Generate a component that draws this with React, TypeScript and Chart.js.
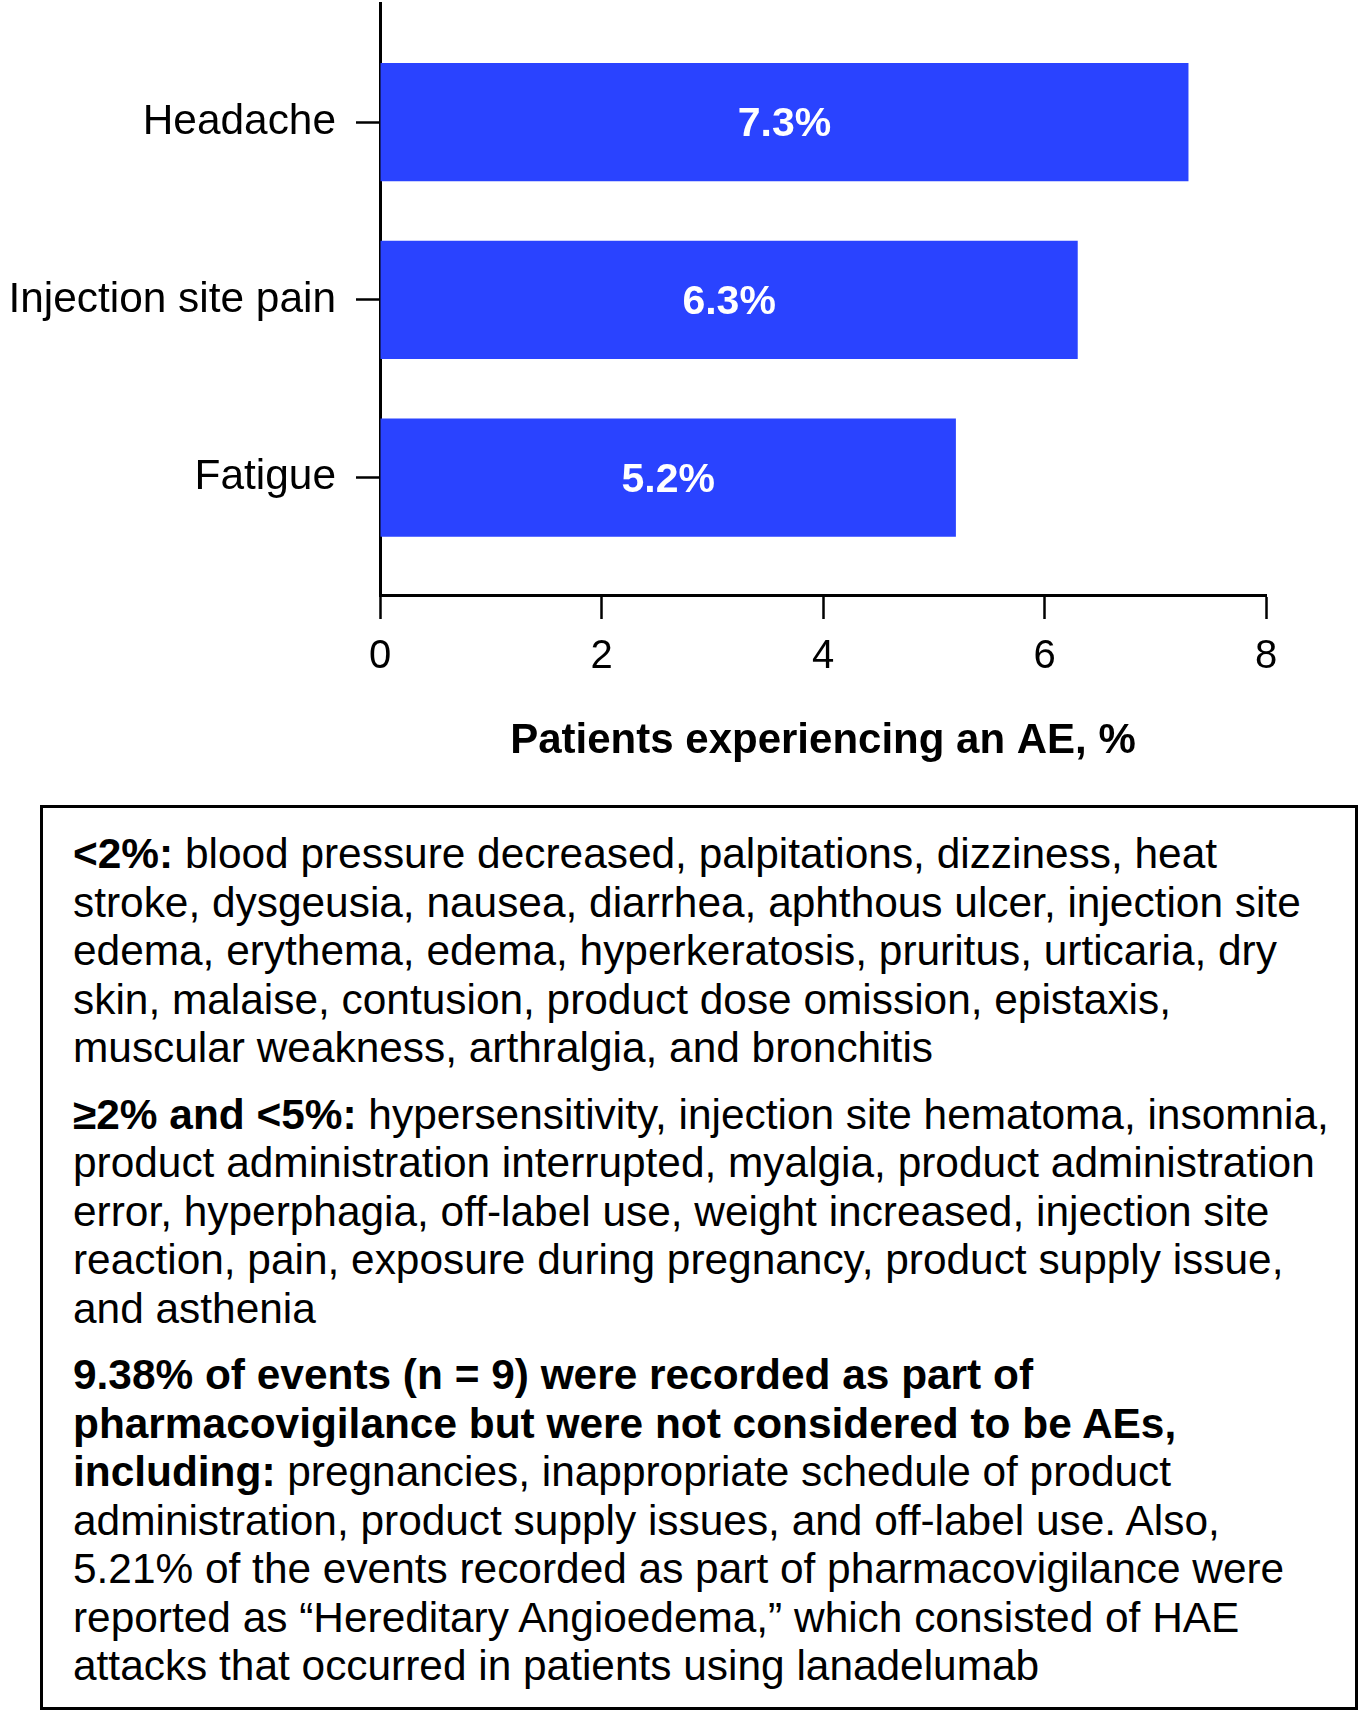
import React, { useEffect, useRef } from "react";
import { Chart, registerables } from "chart.js";

Chart.register(...registerables);

const categories = ["Headache", "Injection site pain", "Fatigue"];
const values = [7.3, 6.3, 5.2];
const xTicks = [0, 2, 4, 6, 8];
const xTitle = "Patients experiencing an AE, %";

const FONT = "'Liberation Sans', Arial, Helvetica, sans-serif";
const BAR_COLOR = "#2a43ff";

const para1 = [
  [{ b: "<2%:" }, " blood pressure decreased, palpitations, dizziness, heat"],
  ["stroke, dysgeusia, nausea, diarrhea, aphthous ulcer, injection site"],
  ["edema, erythema, edema, hyperkeratosis, pruritus, urticaria, dry"],
  ["skin, malaise, contusion, product dose omission, epistaxis,"],
  ["muscular weakness, arthralgia, and bronchitis"],
];
const para2 = [
  [{ b: "≥2% and <5%:" }, " hypersensitivity, injection site hematoma, insomnia,"],
  ["product administration interrupted, myalgia, product administration"],
  ["error, hyperphagia, off-label use, weight increased, injection site"],
  ["reaction, pain, exposure during pregnancy, product supply issue,"],
  ["and asthenia"],
];
const para3 = [
  [{ b: "9.38% of events (n = 9) were recorded as part of" }],
  [{ b: "pharmacovigilance but were not considered to be AEs," }],
  [{ b: "including:" }, " pregnancies, inappropriate schedule of product"],
  ["administration, product supply issues, and off-label use. Also,"],
  ["5.21% of the events recorded as part of pharmacovigilance were"],
  ["reported as “Hereditary Angioedema,” which consisted of HAE"],
  ["attacks that occurred in patients using lanadelumab"],
];

const CANVAS_H = 790;
const AXIS_LEFT = 380;
const AXIS_BOTTOM = 595;

export default function App() {
  const ref = useRef<HTMLCanvasElement | null>(null);

  useEffect(() => {
    if (!ref.current) return;
    Chart.defaults.font.family = FONT;
    const labelPlugin = {
      id: "barLabels",
      afterDatasetsDraw(chart: any) {
        const ctx = chart.ctx;
        const meta = chart.getDatasetMeta(0);
        ctx.save();
        ctx.fillStyle = "#ffffff";
        ctx.font = `bold 41px ${FONT}`;
        ctx.textAlign = "center";
        ctx.textBaseline = "middle";
        meta.data.forEach((el: any, i: number) => {
          const cx = (el.x + el.base) / 2;
          ctx.fillText(`${values[i].toFixed(1)}%`, cx, el.y + 3);
        });
        ctx.restore();
      },
    };
    const chart = new Chart(ref.current, {
      type: "bar",
      data: {
        datasets: [
          {
            data: values.map((v, i) => ({ x: v, y: i })),
            backgroundColor: BAR_COLOR,
            borderWidth: 0,
            barPercentage: 0.665,
            categoryPercentage: 1,
          },
        ],
      },
      options: {
        indexAxis: "y",
        animation: false,
        responsive: false,
        devicePixelRatio: 1,
        layout: { padding: { top: 3, right: 95, left: 0, bottom: 0 } },
        plugins: { legend: { display: false }, tooltip: { enabled: false } },
        scales: {
          x: {
            type: "linear",
            min: 0,
            max: 8,
            offset: false,
            afterBuildTicks: (s: any) => {
              s.ticks = xTicks.map((v) => ({ value: v }));
            },
            afterFit: (s: any) => {
              s.height = CANVAS_H - AXIS_BOTTOM;
            },
            border: { display: true, color: "#000", width: 3 },
            grid: {
              display: true,
              offset: false,
              drawOnChartArea: false,
              drawTicks: true,
              tickLength: 24,
              tickColor: "#000",
              tickWidth: 2.5,
            },
            ticks: {
              color: "#000",
              padding: 14,
              font: { size: 40, family: FONT },
              maxRotation: 0,
            },
            title: {
              display: true,
              text: xTitle,
              color: "#000",
              font: { size: 42, weight: "bold", family: FONT },
              padding: { top: 0, bottom: 23 },
            },
          },
          y: {
            type: "linear",
            reverse: true,
            min: -0.67,
            max: 2.66,
            offset: false,
            afterBuildTicks: (s: any) => {
              s.ticks = categories.map((_, i) => ({ value: i }));
            },
            afterFit: (s: any) => {
              s.width = AXIS_LEFT;
              s.paddingTop = 0;
              s.paddingBottom = 0;
            },
            border: { display: true, color: "#000", width: 3 },
            grid: {
              display: true,
              offset: false,
              drawOnChartArea: false,
              drawTicks: true,
              tickLength: 24,
              tickColor: "#000",
              tickWidth: 2.5,
            },
            ticks: {
              color: "#000",
              padding: 20,
              font: { size: 42.4, family: FONT },
              callback: (v: any) => categories[Math.round(Number(v))] ?? "",
            },
          },
        },
      },
      plugins: [labelPlugin],
    } as any);
    return () => chart.destroy();
  }, []);

  const renderPara = (lines: any[], first: boolean) => (
    <div style={{ marginTop: first ? 0 : 18 }}>
      {lines.map((parts, i) => (
        <div key={i} style={{ whiteSpace: "nowrap" }}>
          {parts.map((p: any, j: number) =>
            typeof p === "string" ? (
              <span key={j}>{p}</span>
            ) : (
              <b key={j}>{p.b}</b>
            )
          )}
        </div>
      ))}
    </div>
  );

  return (
    <div
      style={{
        position: "absolute",
        left: 0,
        top: 0,
        width: 1361,
        height: 1712,
        background: "#fff",
        fontFamily: FONT,
      }}
    >
      <canvas
        ref={ref}
        width={1361}
        height={CANVAS_H}
        style={{ position: "absolute", left: 0, top: 0, width: 1361, height: CANVAS_H }}
      />
      <div
        style={{
          position: "absolute",
          left: 40,
          top: 805,
          width: 1318,
          height: 905,
          boxSizing: "border-box",
          border: "3px solid #000",
          paddingLeft: 30,
          paddingTop: 22,
          fontSize: 42.4,
          lineHeight: "48.5px",
          color: "#000",
        }}
      >
        {renderPara(para1, true)}
        {renderPara(para2, false)}
        {renderPara(para3, false)}
      </div>
    </div>
  );
}
